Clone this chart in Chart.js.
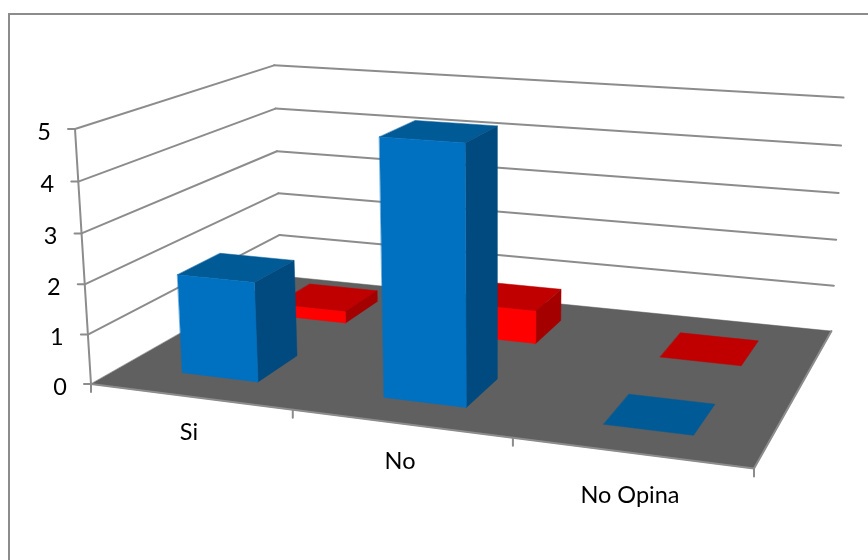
<!DOCTYPE html>
<html>
<head>
<meta charset="utf-8">
<style>
  html, body { margin: 0; padding: 0; background: #fff; }
  canvas { display: block; }
</style>
<script src="https://cdn.jsdelivr.net/npm/chart.js@4/dist/chart.umd.min.js"></script>
</head>
<body>
<canvas id="chart" width="868" height="560"></canvas>
<script>
// Survey answers, one row of columns per series
const categories = ['Si', 'No', 'No Opina'];
const frontSeries = [2, 5, 0];
const backSeries = [0.25, 0.7, 0];
const valueTicks = [0, 1, 2, 3, 4, 5];

// Shades for each column face
const blueFaces = { front: '#0070c0', top: '#005a96', side: '#004a7f' };
const redFaces = { front: '#ff0000', top: '#c00000', side: '#a50000' };

// Box shape inside a category slot and a depth row
const columnShare = 0.385;
const rowCentres = [0.25, 0.75];
const rowDepth = 0.21;

// Camera: floor corners on screen, perspective terms, vertical vanishing point
const floorFrontLeft = [91, 384];
const floorFrontRight = [754, 468.5];
const floorBackLeft = [281, 276];
const perspectiveU = -0.125;
const perspectiveV = 0.222;
const verticalVanish = [496, 6837];
const heightGain = -0.03801;
const categoryLabelSpots = [[189, 432], [400, 461], [630, 495]];

const LINE = '#8c8c8c';
const FONT = '23.5px Lato, Carlito, Calibri, sans-serif';

// Perspective map from the unit floor square to the screen
function floorPoint(u, v) {
  const [x0, y0] = floorFrontLeft, [x1, y1] = floorFrontRight, [x2, y2] = floorBackLeft;
  const g = perspectiveU, h = perspectiveV;
  const k = g * u + h * v + 1;
  return [
    ((x1 - x0 + g * x1) * u + (x2 - x0 + h * x2) * v + x0) / k,
    ((y1 - y0 + g * y1) * u + (y2 - y0 + h * y2) * v + y0) / k,
    k
  ];
}

// u: along the categories, v: into the depth, w: share of the value axis
function project(u, v, w) {
  const [x, y, k] = floorPoint(u, v);
  const t = (w * heightGain) / (k + w * heightGain);
  return [x + (verticalVanish[0] - x) * t, y + (verticalVanish[1] - y) * t];
}

function polygon(ctx, pts, fill) {
  ctx.beginPath();
  pts.forEach((p, i) => (i ? ctx.lineTo(p[0], p[1]) : ctx.moveTo(p[0], p[1])));
  ctx.closePath();
  ctx.fillStyle = fill;
  ctx.strokeStyle = fill;
  ctx.lineWidth = 0.5;
  ctx.fill();
  ctx.stroke();
}

function segment(ctx, a, b) {
  ctx.beginPath();
  ctx.moveTo(a[0], a[1]);
  ctx.lineTo(b[0], b[1]);
  ctx.stroke();
}

function drawBox(ctx, u0, u1, v0, v1, w, faces) {
  polygon(ctx, [project(u0, v1, w), project(u1, v1, w), project(u1, v0, w), project(u0, v0, w)], faces.top);
  if (w <= 0) return;
  polygon(ctx, [project(u1, v0, 0), project(u1, v1, 0), project(u1, v1, w), project(u1, v0, w)], faces.side);
  polygon(ctx, [project(u0, v0, 0), project(u1, v0, 0), project(u1, v0, w), project(u0, v0, w)], faces.front);
}

const perspectivePlugin = {
  id: 'perspective',
  beforeDatasetsDraw(chart) {
    const { ctx } = chart;
    const yScale = chart.scales.y, xScale = chart.scales.x;
    const yShare = t => (yScale.getPixelForValue(0) - yScale.getPixelForValue(t)) /
      (yScale.getPixelForValue(0) - yScale.getPixelForValue(yScale.max));

    ctx.save();
    ctx.lineCap = 'round';
    ctx.strokeStyle = LINE;
    ctx.lineWidth = 2;
    ctx.strokeRect(9, 14, 900, 600);

    // Wall gridlines, left wall then back wall
    valueTicks.forEach(t => {
      const w = yShare(t);
      if (t > 0) {
        segment(ctx, project(0, 0, w), project(0, 1, w));
        segment(ctx, project(0, 1, w), project(1, 1, w));
      }
    });

    polygon(ctx, [project(0, 0, 0), project(1, 0, 0), project(1, 1, 0), project(0, 1, 0)], '#606060');

    // Floor edges, value axis and tick marks
    ctx.strokeStyle = LINE;
    ctx.lineWidth = 2;
    segment(ctx, project(0, 0, 0), project(1, 0, 0));
    segment(ctx, project(1, 0, 0), project(1, 1, 0));
    segment(ctx, project(0, 0, 0), project(0, 0, 1));
    ctx.fillStyle = '#000';
    ctx.font = FONT;
    ctx.textAlign = 'center';
    ctx.textBaseline = 'middle';
    valueTicks.forEach(t => {
      const p = project(0, 0, yShare(t));
      segment(ctx, [p[0] - 7, p[1]], p);
      ctx.fillText(String(t), p[0] - 31, p[1] + 3);
    });
    const slots = categories.length;
    for (let i = 0; i <= slots; i++) {
      const p = project(i / slots, 0, 0);
      segment(ctx, p, [p[0], p[1] + 8]);
    }
    xScale.getLabels().forEach((label, i) => {
      ctx.fillText(label, categoryLabelSpots[i][0], categoryLabelSpots[i][1]);
    });

    // Back row first so the front row covers it
    const area = chart.chartArea;
    [1, 0].forEach(index => {
      const faces = index === 0 ? blueFaces : redFaces;
      const half = columnShare / slots / 2;
      const v0 = rowCentres[index] - rowDepth / 2, v1 = rowCentres[index] + rowDepth / 2;
      chart.getDatasetMeta(index).data.forEach((bar, i) => {
        const centre = xScale.getPixelForValue(i);
        const u = (centre - area.left) / (area.right - area.left);
        const w = (bar.base - bar.y) / (area.bottom - area.top);
        drawBox(ctx, u - half, u + half, v0, v1, w, faces);
      });
    });
    ctx.restore();
  }
};

new Chart(document.getElementById('chart'), {
  type: 'bar',
  data: {
    labels: categories,
    datasets: [
      { label: 'Serie 1', data: frontSeries, backgroundColor: 'transparent' },
      { label: 'Serie 2', data: backSeries, backgroundColor: 'transparent' }
    ]
  },
  options: {
    responsive: false,
    animation: false,
    layout: { padding: { left: 91, right: 36, top: 129, bottom: 176 } },
    plugins: { legend: { display: false }, tooltip: { enabled: false } },
    scales: {
      x: { display: false },
      y: { display: false, min: 0, max: 5, ticks: { stepSize: 1 } }
    }
  },
  plugins: [perspectivePlugin]
});
</script>
</body>
</html>
